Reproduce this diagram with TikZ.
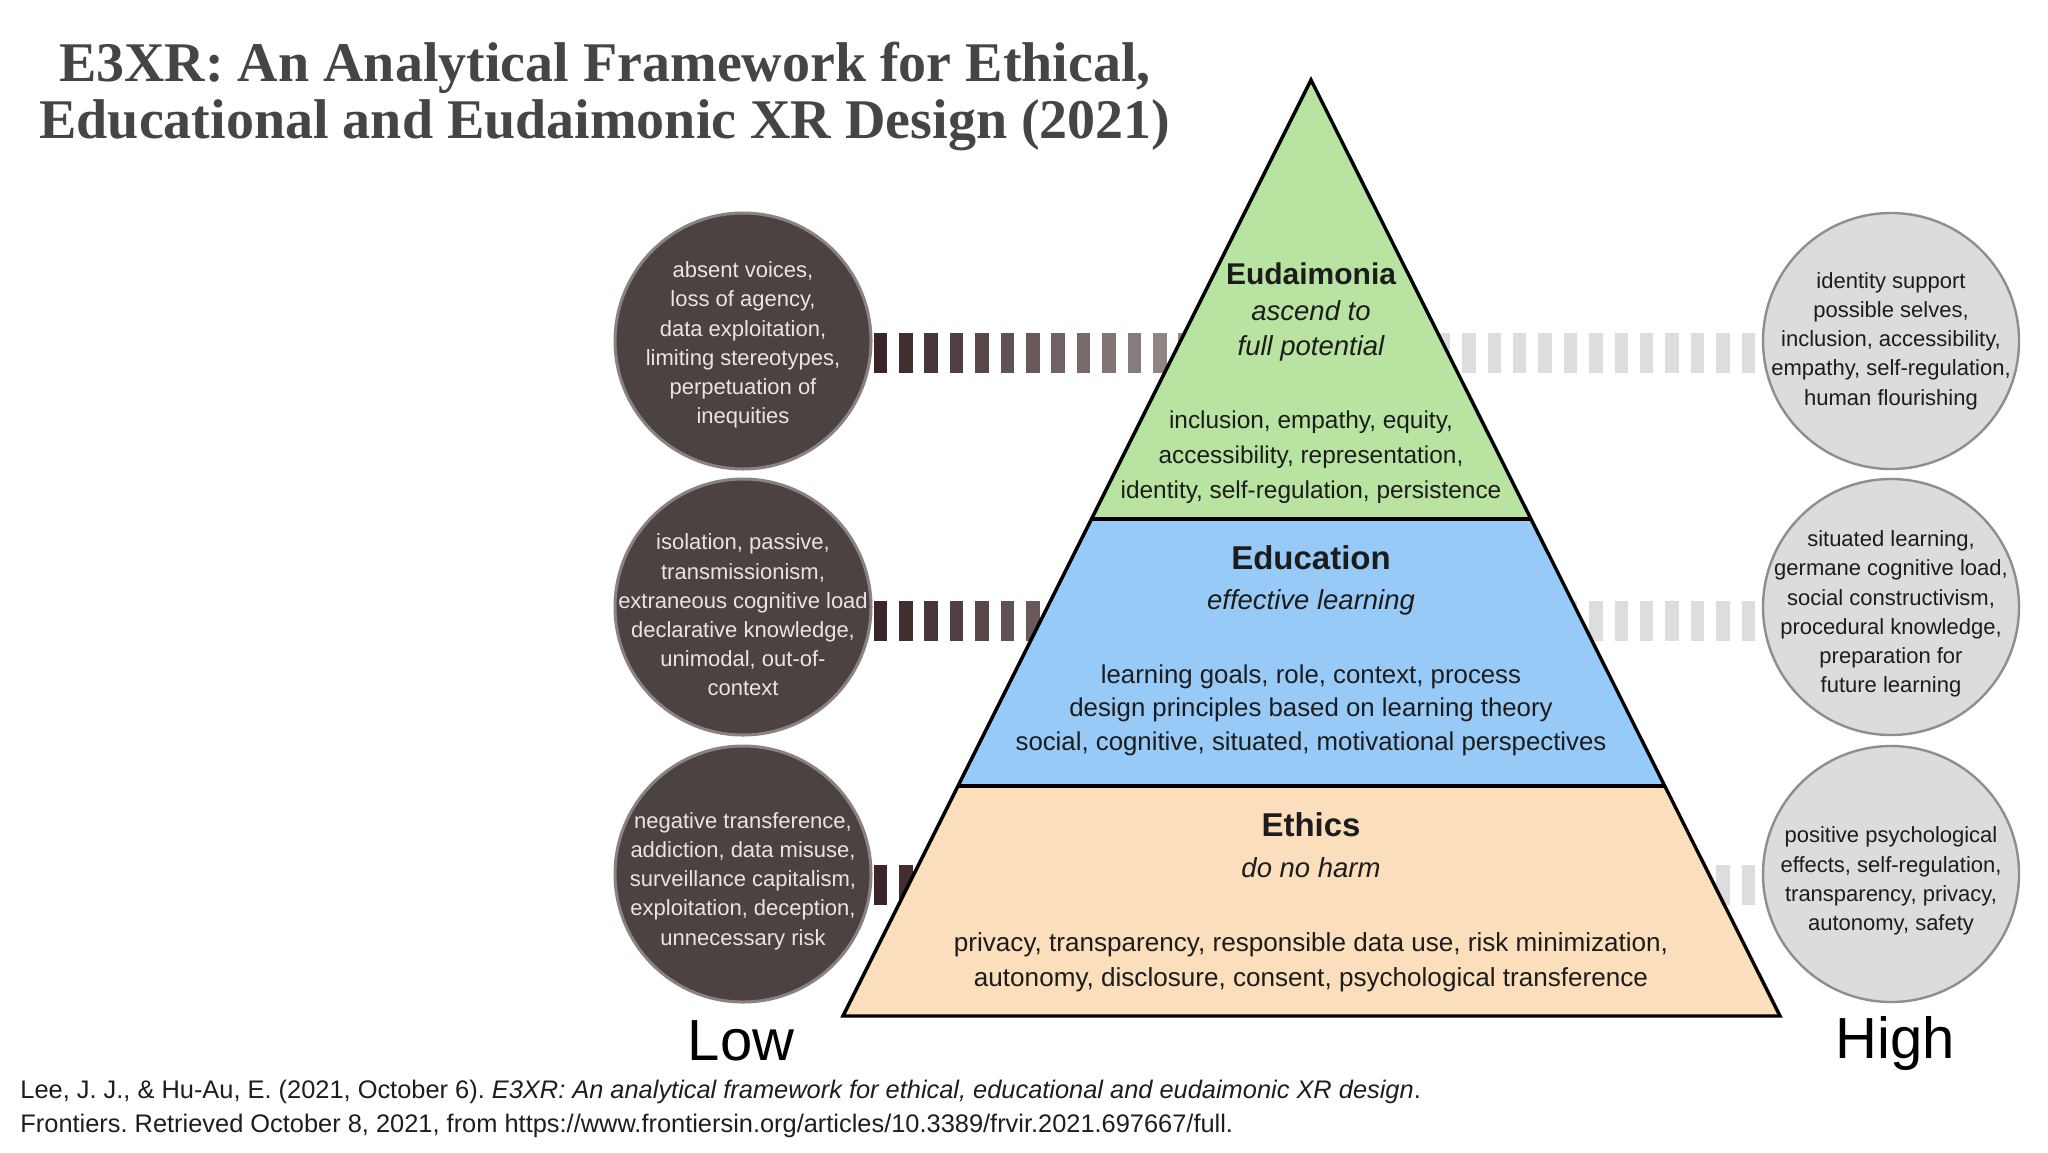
\documentclass[tikz,border=0pt]{standalone}
\usepackage{fontspec}
\setmainfont{Liberation Sans}
\newfontfamily\titlefont{Liberation Serif}
\usetikzlibrary{calc}
\frenchspacing

\definecolor{titlegray}{HTML}{454545}
\definecolor{eudgreen}{HTML}{B8E3A1}
\definecolor{edublue}{HTML}{98CAF8}
\definecolor{ethpeach}{HTML}{FBDEBC}
\definecolor{darkcirc}{HTML}{4B4241}
\definecolor{darkrim}{HTML}{8A8281}
\definecolor{lighttext}{HTML}{EAE4E4}
\definecolor{lightcirc}{HTML}{DCDCDC}
\definecolor{lightrim}{HTML}{8E8E8E}
\definecolor{barlight}{HTML}{DDDDDD}
\definecolor{bardarkA}{RGB}{58,38,40}
\definecolor{bardarkB}{RGB}{150,140,140}
\definecolor{inktext}{HTML}{1C1C1C}
\definecolor{citetext}{HTML}{1E1E1E}

\begin{document}
\begin{tikzpicture}[x=0.5pt,y=-0.5pt,
  titlestyle/.style={font=\titlefont\bfseries\fontsize{28}{28.5}\selectfont, text=titlegray, inner sep=0pt},
  lowcirc/.style={circle, fill=darkcirc, draw=darkrim, line width=1.5pt, minimum size=128pt, inner sep=0pt},
  highcirc/.style={circle, fill=lightcirc, draw=lightrim, line width=1.2pt, minimum size=128pt, inner sep=0pt},
  lowtext/.style={align=center, text=lighttext, font=\fontsize{11}{14.6}\selectfont, inner sep=0pt},
  hightext/.style={align=center, text=inktext, font=\fontsize{11}{14.6}\selectfont, inner sep=0pt},
  headA/.style={font=\bfseries\fontsize{15}{18}\selectfont, text=inktext, inner sep=0pt},
  headB/.style={font=\bfseries\fontsize{16.5}{19}\selectfont, text=inktext, inner sep=0pt},
  subtitle/.style={align=center, font=\itshape\fontsize{13.75}{17.5}\selectfont, text=inktext, inner sep=0pt},
  bodytext/.style={align=center, font=\fontsize{12.9}{17.25}\selectfont, text=inktext, inner sep=0pt},
  axislabel/.style={font=\fontsize{29}{32}\selectfont, text=black, inner sep=0pt},
  cite/.style={font=\fontsize{12.7}{14}\selectfont, text=citetext, inner sep=0pt},
  pyrline/.style={line width=1.7pt, draw=black, line join=miter}
]
\useasboundingbox (0,0) rectangle (2048,1152);
\fill[white] (0,0) rectangle (2048,1152);

% ---- title
\node[titlestyle, anchor=base] (title1) at (605,81) {E3XR: An Analytical Framework for Ethical,};
\node[titlestyle, anchor=base] (title2) at (605,138) {Educational and Eudaimonic XR Design (2021)};

% ---- bar connectors (left: dark gradient, right: light grey)
\foreach \cy/\n in {353/12, 621/7, 885/1} {
  \foreach \k in {0,...,\n} {
    \pgfmathsetmacro\xs{873.6+25.4*\k}
    \pgfmathtruncatemacro\pp{min(100,max(0,(\xs-873.6)/3.0))}
    \fill[bardarkB!\pp!bardarkA] (\xs,\cy-20) rectangle ++(13.5,40);
  }
}
\foreach \cy/\n in {353/12, 621/7, 885/1} {
  \foreach \k in {0,...,\n} {
    \fill[barlight] ({1741.5-25.4*\k},\cy-20) rectangle ++(13.5,40);
  }
}

% ---- pyramid
\coordinate (apex) at (1311,80);
\coordinate (bl) at (843,1016);
\coordinate (br) at (1780,1016);
\coordinate (e1l) at ($(apex)!0.469!(bl)$);
\coordinate (e1r) at ($(apex)!0.469!(br)$);
\coordinate (e2l) at ($(apex)!0.7543!(bl)$);
\coordinate (e2r) at ($(apex)!0.7543!(br)$);
\fill[eudgreen] (apex) -- (e1l) -- (e1r) -- cycle;
\fill[edublue] (e1l) -- (e2l) -- (e2r) -- (e1r) -- cycle;
\fill[ethpeach] (e2l) -- (bl) -- (br) -- (e2r) -- cycle;
\draw[pyrline] (apex) -- (bl) -- (br) -- cycle;
\draw[pyrline] (e1l) -- (e1r);
\draw[pyrline] (e2l) -- (e2r);

% ---- pyramid texts
\node[headA] (euh) at (1311,274) {Eudaimonia};
\node[subtitle] (eus) at (1311,331) {ascend to\\full potential};
\node[bodytext, font=\fontsize{12.2}{17.4}\selectfont] (eub) at (1311,457) {inclusion, empathy, equity,\\accessibility, representation,\\identity, self-regulation, persistence};

\node[headB] (edh) at (1311,558) {Education};
\node[subtitle] (eds) at (1311,602) {effective learning};
\node[bodytext, font=\fontsize{12.9}{16.75}\selectfont] (edb) at (1311,710) {learning goals, role, context, process\\design principles based on learning theory\\social, cognitive, situated, motivational perspectives};

\node[headB] (eth) at (1311,825) {Ethics};
\node[subtitle] (ets) at (1311,868) {do no harm};
\node[bodytext, font=\fontsize{13.05}{17.4}\selectfont] (etb) at (1311,962) {privacy, transparency, responsible data use, risk minimization,\\autonomy, disclosure, consent, psychological transference};

% ---- circles
\node[lowcirc] (L1) at (743,341) {};
\node[lowcirc] (L2) at (743,607) {};
\node[lowcirc] (L3) at (743,874) {};
\node[highcirc] (R1) at (1891,341) {};
\node[highcirc] (R2) at (1891,607) {};
\node[highcirc] (R3) at (1891,874) {};

\node[lowtext] (L1t) at ($(L1.center)+(0,4)$) {absent voices,\\loss of agency,\\data exploitation,\\limiting stereotypes,\\perpetuation of\\inequities};
\node[lowtext] (L2t) at ($(L2.center)+(0,8)$) {isolation, passive,\\transmissionism,\\extraneous cognitive load\\declarative knowledge,\\unimodal, out-of-\\context};
\node[lowtext] (L3t) at ($(L3.center)+(0,7)$) {negative transference,\\addiction, data misuse,\\surveillance capitalism,\\exploitation, deception,\\unnecessary risk};

\node[hightext] (R1t) at ($(R1.center)+(0,0)$) {identity support\\possible selves,\\inclusion, accessibility,\\empathy, self-regulation,\\human flourishing};
\node[hightext] (R2t) at ($(R2.center)+(0,7)$) {situated learning,\\germane cognitive load,\\social constructivism,\\procedural knowledge,\\preparation for\\future learning};
\node[hightext] (R3t) at ($(R3.center)+(0,7)$) {positive psychological\\effects, self-regulation,\\transparency, privacy,\\autonomy, safety};

% ---- axis labels
\node[axislabel, anchor=base] (low) at (741,1060) {Low};
\node[axislabel, anchor=base] (high) at (1895,1058) {High};

% ---- citation
\node[cite, anchor=base west] (cite1) at (20,1098) {Lee, J. J., \& Hu-Au, E. (2021, October 6). \textit{E3XR: An analytical framework for ethical, educational and eudaimonic XR design}.};
\node[cite, anchor=base west] (cite2) at (20,1132) {Frontiers. Retrieved October 8, 2021, from https://www.frontiersin.org/articles/10.3389/frvir.2021.697667/full.};
\end{tikzpicture}
\end{document}
